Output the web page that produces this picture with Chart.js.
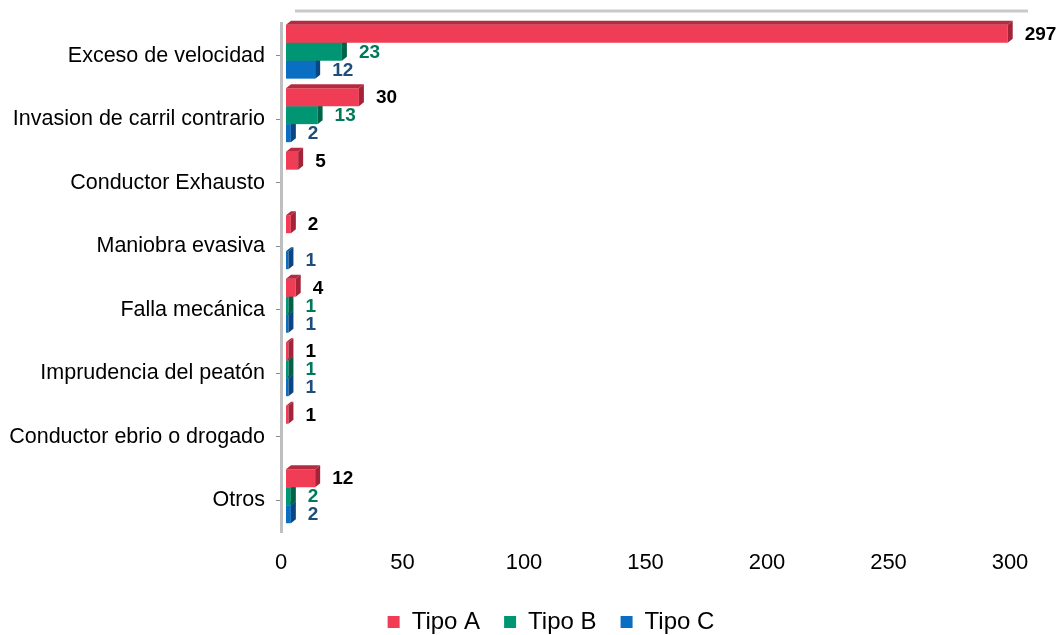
<!DOCTYPE html>
<html>
<head>
<meta charset="utf-8">
<title>Causas de accidentes</title>
<script src="https://cdn.jsdelivr.net/npm/chart.js@4.4.1/dist/chart.umd.min.js"></script>
<style>
  html, body { margin: 0; padding: 0; background: #fff; }
  #wrap { width: 1060px; height: 635px; }
</style>
</head>
<body>
<div id="wrap"><canvas id="chart"></canvas></div>
<script>
// --- data ---
const categories = [
  'Exceso de velocidad',
  'Invasion de carril contrario',
  'Conductor Exhausto',
  'Maniobra evasiva',
  'Falla mecánica',
  'Imprudencia del peatón',
  'Conductor ebrio o drogado',
  'Otros',
];
const seriesNames = ['Tipo A', 'Tipo B', 'Tipo C'];
const tipoA = [297, 30, 5, 2, 4, 1, 1, 12];
const tipoB = [23, 13, null, null, 1, 1, null, 2];
const tipoC = [12, 2, null, 1, 1, 1, null, 2];
const xTicks = [0, 50, 100, 150, 200, 250, 300];

// front faces sit a bit up-right of the axis plane, like the old 3D office charts
const SHIFT = { x: 5, y: -4 };
const DEPTH = { x: 5, y: -4 };
const LABEL_GAP = 22;
const LEGEND_NUDGE = 46;

const FONT = '"Liberation Sans", Arial, Helvetica, sans-serif';
Chart.defaults.font.family = FONT;
Chart.defaults.color = '#000';

function poly(ctx, pts, color) {
  ctx.fillStyle = color;
  ctx.beginPath();
  ctx.moveTo(pts[0][0], pts[0][1]);
  for (let i = 1; i < pts.length; i++) ctx.lineTo(pts[i][0], pts[i][1]);
  ctx.closePath();
  ctx.fill();
}

/** Draws top/side faces, the back wall edge and the value labels. */
const bars3d = {
  id: 'bars3d',
  afterLayout(chart) {
    // the original legend is centred under the plot, not under the whole canvas
    if (chart.legend) {
      chart.legend.left += LEGEND_NUDGE;
      chart.legend.right += LEGEND_NUDGE;
    }
  },
  beforeDatasetsDraw(chart) {
    const { ctx, chartArea: a } = chart;
    ctx.save();
    ctx.strokeStyle = '#c9c9c9';
    ctx.lineWidth = 3;
    ctx.beginPath();
    ctx.moveTo(a.left + 14, a.top - 13);
    ctx.lineTo(a.right + 18, a.top - 13);
    ctx.stroke();
    ctx.restore();
  },
  beforeDatasetDraw(chart) {
    chart.ctx.save();
    chart.ctx.translate(SHIFT.x, SHIFT.y);
  },
  afterDatasetDraw(chart, args) {
    const ctx = chart.ctx;
    const ds = chart.data.datasets[args.index];
    args.meta.data.forEach((bar, i) => {
      if (ds.data[i] == null) return;
      const { x, y, base, height } = bar.getProps(['x', 'y', 'base', 'height'], true);
      const top = y - height / 2;
      const bottom = y + height / 2;
      poly(ctx, [[base, top], [base + DEPTH.x, top + DEPTH.y], [x + DEPTH.x, top + DEPTH.y], [x, top]], ds.topColor);
      poly(ctx, [[x, top], [x + DEPTH.x, top + DEPTH.y], [x + DEPTH.x, bottom + DEPTH.y], [x, bottom]], ds.sideColor);
    });
    ctx.restore();
  },
  afterDatasetsDraw(chart) {
    const ctx = chart.ctx;
    ctx.save();
    ctx.font = 'bold 19px ' + FONT;
    ctx.textAlign = 'left';
    ctx.textBaseline = 'middle';
    chart.data.datasets.forEach((ds, d) => {
      const meta = chart.getDatasetMeta(d);
      meta.data.forEach((bar, i) => {
        const v = ds.data[i];
        if (v == null) return;
        ctx.fillStyle = ds.labelColor;
        ctx.fillText(String(v), bar.x + LABEL_GAP, bar.y + SHIFT.y + 1);
      });
    });
    ctx.restore();
  },
};

const datasets = [
  { label: seriesNames[0], data: tipoA, backgroundColor: '#f03c55', topColor: '#b7293e', sideColor: '#a52338', labelColor: '#000000' },
  { label: seriesNames[1], data: tipoB, backgroundColor: '#009673', topColor: '#006c52', sideColor: '#006348', labelColor: '#00785a' },
  { label: seriesNames[2], data: tipoC, backgroundColor: '#0a6ec3', topColor: '#0a4f8f', sideColor: '#0a4682', labelColor: '#1f4e79' },
].map((ds) => ({ ...ds, borderWidth: 0, categoryPercentage: 0.85, barPercentage: 1, clip: false }));

new Chart(document.getElementById('chart'), {
  type: 'bar',
  data: { labels: categories, datasets },
  options: {
    indexAxis: 'y',
    responsive: true,
    maintainAspectRatio: false,
    animation: false,
    layout: { padding: { top: 21, right: 50, left: 0, bottom: -9 } },
    plugins: {
      tooltip: { enabled: false },
      legend: {
        position: 'bottom',
        labels: { boxWidth: 12, boxHeight: 12, padding: 24, font: { size: 24 }, color: '#000' },
      },
    },
    scales: {
      x: {
        min: xTicks[0],
        max: xTicks[xTicks.length - 1],
        grid: { display: false, drawTicks: false },
        border: { display: false },
        ticks: { stepSize: xTicks[1] - xTicks[0], padding: 18, font: { size: 22 }, color: '#000' },
        afterFit(scale) { scale.height = 54; },
      },
      y: {
        grid: { display: true, drawOnChartArea: false, offset: false, tickLength: 5, color: '#8c8c8c' },
        border: { display: true, color: '#bfbfbf', width: 3 },
        ticks: { padding: 11, font: { size: 21.5 }, color: '#000' },
        afterFit(scale) { scale.width = 281; },
      },
    },
  },
  plugins: [bars3d],
});
</script>
</body>
</html>
